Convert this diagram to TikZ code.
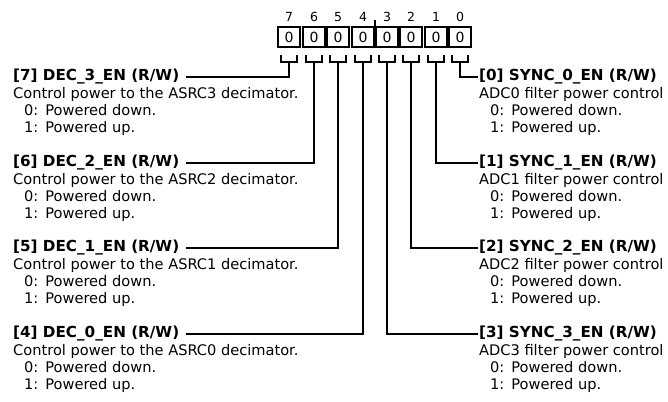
\documentclass[tikz,border=0pt]{standalone}
\usepackage{fontspec}
\setmainfont{DejaVu Sans}
\usetikzlibrary{positioning,calc}
\newcommand{\pwrstates}{\hspace*{11pt}0:\hspace{7pt}Powered down.\\\hspace*{11pt}1:\hspace{7pt}Powered up.}

\begin{document}
\begin{tikzpicture}[
  x=1pt, y=-1pt,
  font=\fontsize{14.6}{17}\selectfont,
  bitbox/.style={draw, line width=2pt, minimum width=21.5pt, minimum height=20pt, inner sep=0pt, font=\fontsize{14}{14}\selectfont},
  bitnum/.style={inner sep=0pt, font=\fontsize{12.5}{12.5}\selectfont},
  head/.style={anchor=west, inner sep=1pt, text height=10pt, text depth=3pt, font=\fontsize{15.2}{17}\selectfont\bfseries},
  desc/.style={align=left, inner sep=1pt},
  wire/.style={line width=2pt, line join=miter}
]
\useasboundingbox (0,0) rectangle (668,401);
% register
\node[bitbox] (b7) at (289,37) {0};
\node[bitbox] (b6) at (314,37) {0};
\node[bitbox] (b5) at (338,37) {0};
\node[bitbox] (b4) at (363,37) {0};
\node[bitbox] (b3) at (387,37) {0};
\node[bitbox] (b2) at (411,37) {0};
\node[bitbox] (b1) at (436,37) {0};
\node[bitbox] (b0) at (460,37) {0};
\node[bitnum, above=4pt of b7] (n7) {7};
\node[bitnum, above=4pt of b6] (n6) {6};
\node[bitnum, above=4pt of b5] (n5) {5};
\node[bitnum, above=4pt of b4] (n4) {4};
\node[bitnum, above=4pt of b3] (n3) {3};
\node[bitnum, above=4pt of b2] (n2) {2};
\node[bitnum, above=4pt of b1] (n1) {1};
\node[bitnum, above=4pt of b0] (n0) {0};
\draw[line width=1.2pt] ($(b4.north east)!0.5!(b3.north west)$) -- ++(0,-6);
% left fields
\node[head] (h7) at (12,77) {[7] DEC\_3\_EN (R/W)};
\node[desc, below right=1.5pt and 0pt of h7.south west] (d7) {Control power to the ASRC3 decimator.\\\pwrstates};
\node[head] (h6) at (12,163) {[6] DEC\_2\_EN (R/W)};
\node[desc, below right=1.5pt and 0pt of h6.south west] (d6) {Control power to the ASRC2 decimator.\\\pwrstates};
\node[head] (h5) at (12,248) {[5] DEC\_1\_EN (R/W)};
\node[desc, below right=1.5pt and 0pt of h5.south west] (d5) {Control power to the ASRC1 decimator.\\\pwrstates};
\node[head] (h4) at (12,334) {[4] DEC\_0\_EN (R/W)};
\node[desc, below right=1.5pt and 0pt of h4.south west] (d4) {Control power to the ASRC0 decimator.\\\pwrstates};
% right fields
\node[head] (h0) at (478,77) {[0] SYNC\_0\_EN (R/W)};
\node[desc, below right=1.5pt and 0pt of h0.south west] (d0) {ADC0 filter power control\\\pwrstates};
\node[head] (h1) at (478,163) {[1] SYNC\_1\_EN (R/W)};
\node[desc, below right=1.5pt and 0pt of h1.south west] (d1) {ADC1 filter power control\\\pwrstates};
\node[head] (h2) at (478,248) {[2] SYNC\_2\_EN (R/W)};
\node[desc, below right=1.5pt and 0pt of h2.south west] (d2) {ADC2 filter power control\\\pwrstates};
\node[head] (h3) at (478,334) {[3] SYNC\_3\_EN (R/W)};
\node[desc, below right=1.5pt and 0pt of h3.south west] (d3) {ADC3 filter power control\\\pwrstates};
% brackets and leaders
\draw[wire] ([shift={(-8,7)}]b7.south) -- ++(0,7) -- ++(16,0) -- ++(0,-7) ([yshift=-14pt]b7.south) |- ([xshift=6pt]h7.east);
\draw[wire] ([shift={(-8,7)}]b6.south) -- ++(0,7) -- ++(16,0) -- ++(0,-7) ([yshift=-14pt]b6.south) |- ([xshift=6pt]h6.east);
\draw[wire] ([shift={(-8,7)}]b5.south) -- ++(0,7) -- ++(16,0) -- ++(0,-7) ([yshift=-14pt]b5.south) |- ([xshift=6pt]h5.east);
\draw[wire] ([shift={(-8,7)}]b4.south) -- ++(0,7) -- ++(16,0) -- ++(0,-7) ([yshift=-14pt]b4.south) |- ([xshift=6pt]h4.east);
\draw[wire] ([shift={(-8,7)}]b3.south) -- ++(0,7) -- ++(16,0) -- ++(0,-7) ([yshift=-14pt]b3.south) |- (h3.west);
\draw[wire] ([shift={(-8,7)}]b2.south) -- ++(0,7) -- ++(16,0) -- ++(0,-7) ([yshift=-14pt]b2.south) |- (h2.west);
\draw[wire] ([shift={(-8,7)}]b1.south) -- ++(0,7) -- ++(16,0) -- ++(0,-7) ([yshift=-14pt]b1.south) |- (h1.west);
\draw[wire] ([shift={(-8,7)}]b0.south) -- ++(0,7) -- ++(16,0) -- ++(0,-7) ([yshift=-14pt]b0.south) |- (h0.west);
\end{tikzpicture}
\end{document}
